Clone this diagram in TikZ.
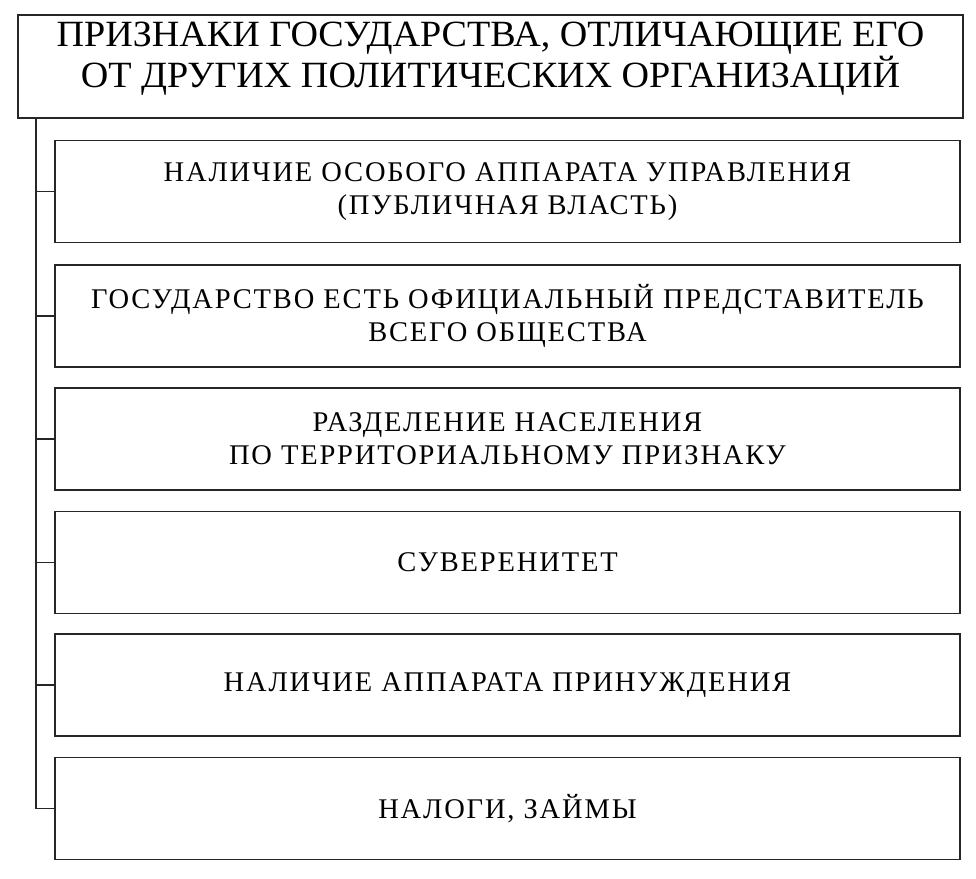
\documentclass[tikz,border=0pt]{standalone}
\usepackage{fontspec}
\setmainfont{Liberation Serif}
\newfontfamily\titlefont[FakeStretch=1.03]{Liberation Serif}
\newfontfamily\boxfont[LetterSpace=6.5]{Liberation Serif}
\begin{document}
\begin{tikzpicture}[x=1pt,y=-1pt,
  frame/.style={draw=black!85, line width=1.7pt, inner sep=0pt},
  titlebox/.style={frame, minimum width=945pt, minimum height=103pt},
  titletext/.style={inner sep=0pt, align=center,
    font=\titlefont\fontsize{37}{37}\selectfont},
  itembox/.style={frame, minimum width=905pt, minimum height=102pt, align=center,
    font=\boxfont\fontsize{28.5}{33}\selectfont},
  link/.style={draw=black!85, line width=1.5pt}]
\useasboundingbox (0,0) rectangle (976,878);
\fill[white] (0,0) rectangle (976,878);
\node[titlebox] (t) at (490.5,66.5) {};
\node[titletext, anchor=base] (tt) at (490.5,87) {ПРИЗНАКИ ГОСУДАРСТВА, ОТЛИЧАЮЩИЕ ЕГО\\ОТ ДРУГИХ ПОЛИТИЧЕСКИХ ОРГАНИЗАЦИЙ};
\node[itembox] (b1) at (507.5,191.5) {НАЛИЧИЕ ОСОБОГО АППАРАТА УПРАВЛЕНИЯ\\(ПУБЛИЧНАЯ ВЛАСТЬ)};
\node[itembox] (b2) at (507.5,316) {ГОСУДАРСТВО ЕСТЬ ОФИЦИАЛЬНЫЙ ПРЕДСТАВИТЕЛЬ\\ВСЕГО ОБЩЕСТВА};
\node[itembox] (b3) at (507.5,439) {РАЗДЕЛЕНИЕ НАСЕЛЕНИЯ\\ПО ТЕРРИТОРИАЛЬНОМУ ПРИЗНАКУ};
\node[itembox] (b4) at (507.5,562.5) {СУВЕРЕНИТЕТ};
\node[itembox] (b5) at (507.5,685) {НАЛИЧИЕ АППАРАТА ПРИНУЖДЕНИЯ};
\node[itembox] (b6) at (507.5,808.5) {НАЛОГИ, ЗАЙМЫ};
\coordinate (top) at (36,0 |- t.south);
\path[link] (top) |- (b6.west);
\foreach \i in {1,...,5} {
  \path[link] (top |- b\i.west) -- (b\i.west);
}
\end{tikzpicture}
\end{document}
